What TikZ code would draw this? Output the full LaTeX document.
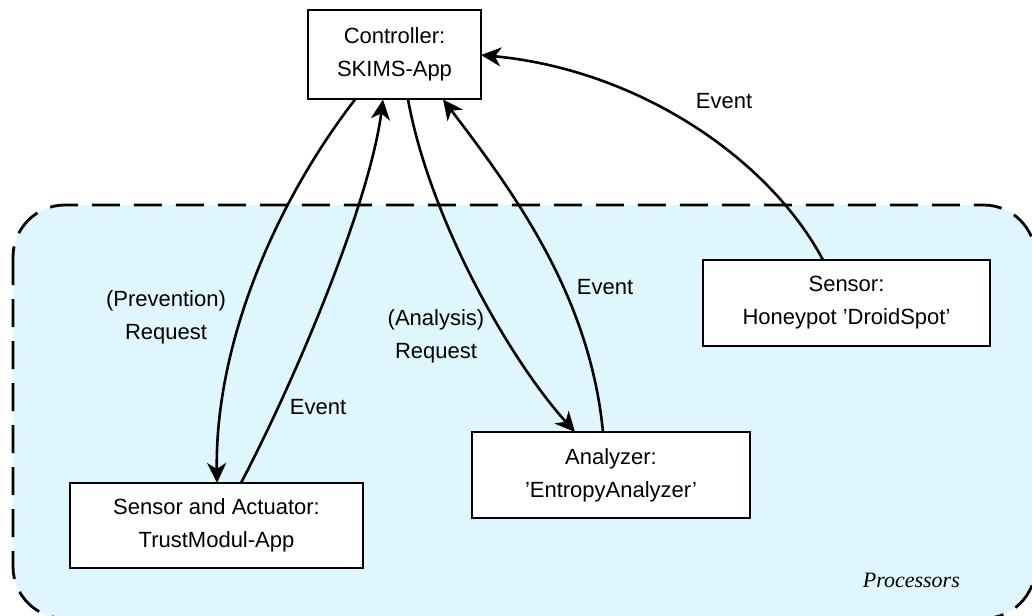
\documentclass[tikz,border=0pt]{standalone}
\usepackage{fontspec}
\setmainfont{Liberation Sans}
\newfontfamily\serifit{Liberation Serif}
\usetikzlibrary{arrows.meta}
\definecolor{regionfill}{RGB}{224,246,255}
\tikzset{
  box/.style={draw=black, line width=2.8pt, fill=white, align=center, inner sep=0pt,
    font=\fontsize{22}{33}\selectfont},
  lbl/.style={align=center, inner sep=0pt, font=\fontsize{22}{33}\selectfont},
  conn/.style={line width=2.6pt, -{Stealth[length=20pt,width=19pt,inset=6pt]}},
  region/.style={draw=black, fill=regionfill, line width=2.8pt, dash pattern=on 28pt off 14pt, rounded corners=52pt}
}
\begin{document}
\begin{tikzpicture}[x=1pt,y=-1pt]
\useasboundingbox (0,0) rectangle (1032,615);
\draw[region] (13,205) rectangle (1035.5,618.5);
\node[anchor=base east, inner sep=0pt, font=\fontsize{22}{26}\serifit\itshape] (proc) at (960,587) {Processors};

\node[box, minimum width=173pt, minimum height=89pt] (ctrl) at (394.5,54.5) {Controller:\\SKIMS-App};
\node[box, minimum width=287pt, minimum height=86pt] (honey) at (846.5,303) {Sensor:\\Honeypot 'DroidSpot'};
\node[box, minimum width=293pt, minimum height=85pt] (trust) at (216.5,525.5) {Sensor and Actuator:\\TrustModul-App};
\node[box, minimum width=278pt, minimum height=86pt] (ana) at (611,475) {Analyzer:\\'EntropyAnalyzer'};

\coordinate (c1) at (355,99.5);
\coordinate (c2) at (383,99.5);
\coordinate (c3) at (408,99.5);
\coordinate (c4) at (443,99.5);
\coordinate (c5) at (481,55);
\coordinate (t1) at (217,483);
\coordinate (t2) at (241,483);
\coordinate (a1) at (575,432);
\coordinate (a2) at (603,432);
\coordinate (h1) at (823,260);

\draw[conn] (c1) .. controls (270,210) and (215,350) .. (t1);
\draw[conn] (t2) .. controls (300,370) and (370,200) .. (c2);
\draw[conn] (c3) .. controls (430,220) and (510,360) .. (a1);
\draw[conn] (a2) .. controls (590,300) and (520,200) .. (c4);
\draw[conn] (h1) .. controls (770,160) and (640,70) .. (c5);

\node[lbl] (l1) at (724,101) {Event};
\node[lbl] (l2) at (166,317) {(Prevention)\\Request};
\node[lbl] (l3) at (318,407) {Event};
\node[lbl] (l4) at (436,336) {(Analysis)\\Request};
\node[lbl] (l5) at (605,287) {Event};
\end{tikzpicture}
\end{document}
